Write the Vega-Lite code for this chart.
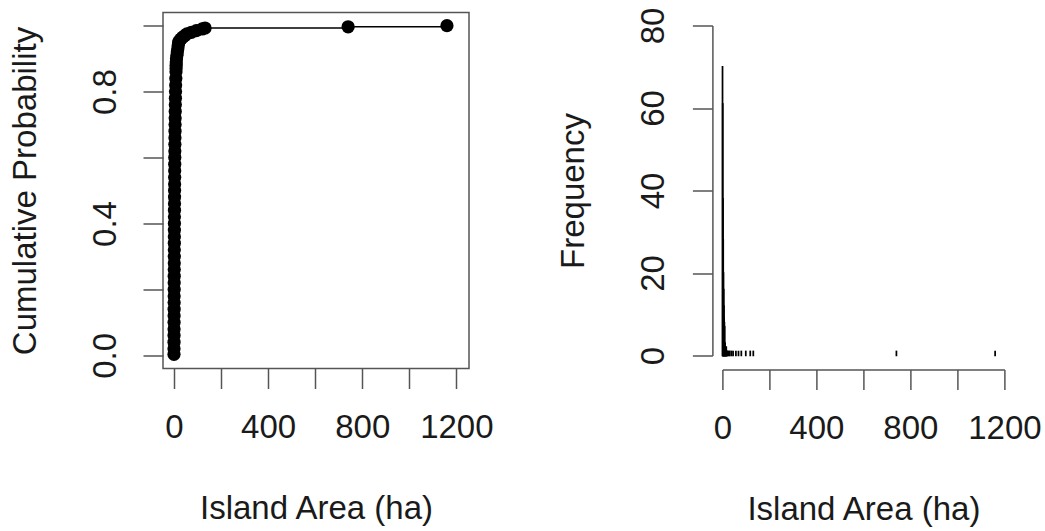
{
  "$schema": "https://vega.github.io/schema/vega-lite/v6.json",
  "background": "white",
  "padding": {"left": 8, "top": 6.5, "right": 5, "bottom": 5},
  "bounds": "flush",
  "spacing": 253.4,
  "center": true,
  "config": {
    "view": {"stroke": null},
    "font": "Liberation Sans",
    "axis": {
      "grid": false,
      "labelFont": "Liberation Sans",
      "titleFont": "Liberation Sans",
      "labelFontSize": 33,
      "titleFontSize": 33,
      "labelColor": "#1a1a1a",
      "titleColor": "#1a1a1a",
      "titleFontWeight": "normal",
      "tickColor": "#555555",
      "domainColor": "#555555",
      "tickWidth": 1.5,
      "domainWidth": 1.5,
      "tickSize": 20,
      "labelPadding": 26,
      "labelFlush": false,
      "labelOverlap": false
    }
  },
  "datasets": {
    "ecdf": [
      {"area": 0.01, "p": 0.003}, {"area": 0.09, "p": 0.02}, {"area": 0.17, "p": 0.04}, {"area": 0.26, "p": 0.06},
      {"area": 0.34, "p": 0.08}, {"area": 0.43, "p": 0.10}, {"area": 0.52, "p": 0.12}, {"area": 0.6, "p": 0.14},
      {"area": 0.69, "p": 0.16}, {"area": 0.77, "p": 0.18}, {"area": 0.86, "p": 0.20}, {"area": 0.94, "p": 0.22},
      {"area": 1.03, "p": 0.24}, {"area": 1.13, "p": 0.26}, {"area": 1.23, "p": 0.28}, {"area": 1.33, "p": 0.30},
      {"area": 1.43, "p": 0.32}, {"area": 1.52, "p": 0.34}, {"area": 1.62, "p": 0.36}, {"area": 1.72, "p": 0.38},
      {"area": 1.82, "p": 0.40}, {"area": 1.92, "p": 0.42}, {"area": 2.02, "p": 0.44}, {"area": 2.18, "p": 0.46},
      {"area": 2.34, "p": 0.48}, {"area": 2.5, "p": 0.50}, {"area": 2.66, "p": 0.52}, {"area": 2.82, "p": 0.54},
      {"area": 2.98, "p": 0.56}, {"area": 3.18, "p": 0.58}, {"area": 3.39, "p": 0.60}, {"area": 3.61, "p": 0.62},
      {"area": 3.82, "p": 0.64}, {"area": 4.05, "p": 0.66}, {"area": 4.35, "p": 0.68}, {"area": 4.65, "p": 0.70},
      {"area": 4.95, "p": 0.72}, {"area": 5.3, "p": 0.74}, {"area": 5.7, "p": 0.76}, {"area": 6.1, "p": 0.78},
      {"area": 6.6, "p": 0.80}, {"area": 7.1, "p": 0.82}, {"area": 7.8, "p": 0.84}, {"area": 8.5, "p": 0.86},
      {"area": 8.9, "p": 0.87}, {"area": 9.3, "p": 0.88}, {"area": 9.7, "p": 0.89}, {"area": 10.6, "p": 0.90},
      {"area": 12.5, "p": 0.91}, {"area": 14.3, "p": 0.92}, {"area": 16.2, "p": 0.93}, {"area": 18.1, "p": 0.94},
      {"area": 20, "p": 0.95}, {"area": 24, "p": 0.955}, {"area": 30, "p": 0.96}, {"area": 37, "p": 0.965},
      {"area": 46, "p": 0.97}, {"area": 55, "p": 0.975}, {"area": 74, "p": 0.98}, {"area": 95, "p": 0.985},
      {"area": 120, "p": 0.99}, {"area": 132, "p": 0.993}, {"area": 740, "p": 0.9967}, {"area": 1160, "p": 1.0}
    ],
    "hist": [
      {"start": 0, "end": 1, "count": 70}, {"start": 1, "end": 2, "count": 61}, {"start": 2, "end": 3, "count": 38},
      {"start": 3, "end": 4, "count": 28}, {"start": 4, "end": 5, "count": 20}, {"start": 5, "end": 6, "count": 16},
      {"start": 6, "end": 7, "count": 12}, {"start": 7, "end": 8, "count": 9}, {"start": 8, "end": 9, "count": 8},
      {"start": 9, "end": 10, "count": 7}, {"start": 10, "end": 11, "count": 3}, {"start": 11, "end": 12, "count": 3},
      {"start": 12, "end": 13, "count": 2}, {"start": 13, "end": 14, "count": 2}, {"start": 14, "end": 15, "count": 2},
      {"start": 15, "end": 16, "count": 1}, {"start": 16, "end": 17, "count": 2}, {"start": 18, "end": 19, "count": 1},
      {"start": 19, "end": 20, "count": 1}, {"start": 22, "end": 23, "count": 1}, {"start": 26, "end": 27, "count": 1},
      {"start": 31, "end": 32, "count": 1}, {"start": 38, "end": 39, "count": 1}, {"start": 45, "end": 46, "count": 1},
      {"start": 57, "end": 58, "count": 1}, {"start": 68, "end": 69, "count": 1}, {"start": 80, "end": 81, "count": 1},
      {"start": 99, "end": 100, "count": 1}, {"start": 118, "end": 119, "count": 1}, {"start": 131, "end": 132, "count": 1},
      {"start": 740, "end": 741, "count": 1}, {"start": 1160, "end": 1161, "count": 1}
    ]
  },
  "hconcat": [
    {
      "width": 306,
      "height": 356,
      "view": {"stroke": "#555555", "strokeWidth": 1.5},
      "layer": [
        {
          "mark": {"type": "rule", "color": "#9a9a9a", "strokeDash": [7, 7], "strokeWidth": 1.5},
          "encoding": {"y": {"datum": 0, "type": "quantitative", "scale": {"domain": [-0.04, 1.04], "nice": false, "zero": false}}}
        },
        {
          "mark": {"type": "rule", "color": "#9a9a9a", "strokeDash": [7, 7], "strokeWidth": 1.5},
          "encoding": {"y": {"datum": 1, "type": "quantitative"}}
        },
        {
          "data": {"name": "ecdf"},
          "mark": {"type": "line", "interpolate": "step-after", "color": "black", "strokeWidth": 1.5},
          "encoding": {
            "x": {"field": "area", "type": "quantitative"},
            "y": {"field": "p", "type": "quantitative"}
          }
        },
        {
          "mark": {"type": "rule", "color": "black", "strokeWidth": 1.5},
          "encoding": {
            "x": {"datum": 1160, "type": "quantitative"},
            "x2": {"datum": 1253.7},
            "y": {"datum": 1, "type": "quantitative"}
          }
        },
        {
          "data": {"name": "ecdf"},
          "mark": {"type": "circle", "color": "black", "opacity": 1, "size": 175},
          "encoding": {
            "x": {
              "field": "area",
              "type": "quantitative",
              "scale": {"domain": [-46.7, 1253.7], "nice": false, "zero": false},
              "axis": {
                "values": [0, 200, 400, 600, 800, 1000, 1200],
                "format": "d",
                "labelExpr": "datum.value % 400 == 0 ? datum.label : ''",
                "domain": false,
                "labelPadding": 23,
                "title": "Island Area (ha)",
                "titlePadding": 48
              }
            },
            "y": {
              "field": "p",
              "type": "quantitative",
              "scale": {"domain": [-0.04, 1.04], "nice": false, "zero": false},
              "axis": {
                "values": [0, 0.2, 0.4, 0.6, 0.8, 1.0],
                "labelExpr": "round(datum.value * 10) % 4 == 0 ? format(datum.value, '.1f') : ''",
                "labelAngle": -90,
                "labelAlign": "center",
                "labelBaseline": "alphabetic",
                "labelPadding": 28,
                "domain": false,
                "title": "Cumulative Probability",
                "titleBaseline": "alphabetic",
                "titlePadding": 54
              }
            }
          }
        }
      ]
    },
    {
      "width": 282,
      "height": 330,
      "layer": [
        {
          "data": {"name": "hist"},
          "mark": {"type": "bar", "color": "black", "stroke": "black", "strokeWidth": 1.5},
          "encoding": {
            "x": {
              "field": "start",
              "type": "quantitative",
              "scale": {"domain": [0, 1200], "nice": false, "zero": false},
              "axis": {
                "values": [0, 200, 400, 600, 800, 1000, 1200],
                "format": "d",
                "labelExpr": "datum.value % 400 == 0 ? datum.label : ''",
                "offset": 14,
                "labelPadding": 23,
                "title": "Island Area (ha)",
                "titlePadding": 48
              }
            },
            "x2": {"field": "end"},
            "y": {
              "field": "count",
              "type": "quantitative",
              "scale": {"domain": [0, 80], "nice": false},
              "axis": {
                "values": [0, 20, 40, 60, 80],
                "labelAngle": -90,
                "labelAlign": "center",
                "labelBaseline": "alphabetic",
                "labelPadding": 29,
                "offset": 10,
                "title": "Frequency",
                "titleBaseline": "alphabetic",
                "titlePadding": 54
              }
            },
            "y2": {"datum": 0}
          }
        },
        {
          "mark": {"type": "rule", "color": "black", "strokeWidth": 1.5},
          "encoding": {
            "x": {"datum": 0, "type": "quantitative"},
            "x2": {"datum": 1165},
            "y": {"datum": 0, "type": "quantitative"}
          }
        }
      ]
    }
  ]
}
